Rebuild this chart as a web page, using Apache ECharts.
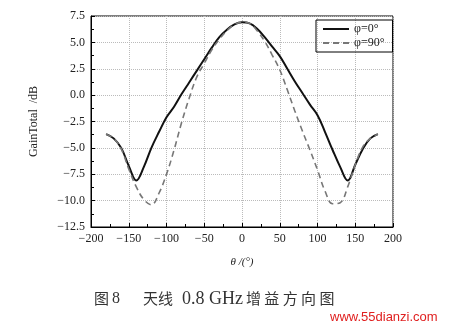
<!DOCTYPE html>
<html><head><meta charset="utf-8">
<script src="https://cdn.jsdelivr.net/npm/echarts@6/dist/echarts.min.js"></script>
<style>html,body{margin:0;padding:0;background:#fff}#c{width:464px;height:327px}</style>
</head><body><div id="c"></div>
<script>
const theta = [-180,-170,-160,-150,-140,-130,-120,-110,-100,-90,-80,-70,-60,-50,-40,-30,-20,-10,0,10,20,30,40,50,60,70,80,90,100,110,120,130,140,150,160,170,180];
const gainPhi0 = [-3.7,-4.1,-5.0,-6.7,-8.1,-6.8,-5.0,-3.5,-2.1,-1.1,0.1,1.2,2.3,3.4,4.5,5.5,6.2,6.7,6.9,6.8,6.3,5.5,4.6,3.7,2.5,1.3,0.2,-0.9,-1.9,-3.5,-5.2,-6.8,-8.1,-6.6,-5.1,-4.1,-3.7];
const gainPhi90 = [-3.7,-4.1,-5.1,-7.0,-8.7,-9.9,-10.4,-9.3,-7.5,-5.2,-2.6,-0.3,1.7,3.0,4.3,5.3,6.1,6.7,6.9,6.8,6.1,5.1,3.8,2.4,0.5,-1.5,-3.4,-5.2,-7.1,-9.1,-10.3,-10.2,-8.7,-6.6,-4.9,-4.1,-3.7];
const seriesNames = ['φ=0°','φ=90°'];
const captionParts = ['图', '8', '天线', '0.8 GHz', '增益方向图'];

const serif = '"Liberation Serif","DejaVu Serif",serif';
const cjk = '"Noto Sans CJK SC",sans-serif';
const chart = echarts.init(document.getElementById('c'));
const minus = v => String(v).replace('-', '−');
chart.setOption({
  animation:false,
  backgroundColor:'#fff',
  grid:{left:91,right:71,top:16,bottom:100,show:true,borderColor:'#000',borderWidth:1,backgroundColor:'transparent'},
  legend:{
    orient:'vertical',left:316,top:20,itemWidth:26,itemHeight:10,itemGap:2,
    padding:[3,8,3,6],borderColor:'#000',borderWidth:1,
    itemStyle:{opacity:0},
    textStyle:{fontFamily:serif,fontSize:12,color:'#222'},
    data:seriesNames
  },
  xAxis:{
    type:'value',min:-200,max:200,interval:50,
    name:'θ /(°)',nameLocation:'middle',nameGap:30,
    nameTextStyle:{fontFamily:serif,fontSize:11,fontStyle:'italic',color:'#222'},
    axisLine:{onZero:false,lineStyle:{color:'#000',width:1}},
    axisTick:{inside:true,length:4,lineStyle:{color:'#000'}},
    minorTick:{show:true,splitNumber:2,length:3,lineStyle:{color:'#000'}},
    axisLabel:{fontFamily:serif,fontSize:12,color:'#222',margin:6,formatter:v=>minus(v)},
    splitLine:{show:true,lineStyle:{color:'#bbb',type:[1,1],width:1}}
  },
  yAxis:{
    type:'value',min:-12.5,max:7.5,interval:2.5,
    name:'GainTotal  /dB',nameLocation:'middle',nameGap:51,nameRotate:90,
    nameTextStyle:{fontFamily:serif,fontSize:12,color:'#222'},
    axisLine:{show:true,onZero:false,lineStyle:{color:'#000',width:1}},
    axisTick:{show:true,inside:true,length:4,lineStyle:{color:'#000'}},
    minorTick:{show:true,splitNumber:2,length:3,lineStyle:{color:'#000'}},
    axisLabel:{fontFamily:serif,fontSize:12,color:'#222',margin:6,formatter:v=>minus(v.toFixed(1))},
    splitLine:{show:true,lineStyle:{color:'#bbb',type:[1,1],width:1}}
  },
  series:[
    {name:seriesNames[0],type:'line',smooth:0.4,symbol:'none',
     data:theta.map((t,i)=>[t,gainPhi0[i]]),
     lineStyle:{color:'#111',width:2},itemStyle:{color:'#111'}},
    {name:seriesNames[1],type:'line',smooth:0.4,symbol:'none',
     data:theta.map((t,i)=>[t,gainPhi90[i]]),
     lineStyle:{color:'#777',width:1.6,type:[6,4]},itemStyle:{color:'#777'}}
  ],
  graphic:[
    {type:'text',left:94,top:291,style:{text:captionParts[0],font:'15px '+cjk,fill:'#333'}},
    {type:'text',left:112,top:291,style:{text:captionParts[1],font:'16px '+serif,fill:'#333'}},
    {type:'text',left:143,top:291,style:{text:captionParts[2],font:'15px '+cjk,fill:'#333'}},
    {type:'text',left:182,top:290,style:{text:captionParts[3],font:'18px '+serif,fill:'#333'}},
    {type:'text',left:246,top:291,style:{text:captionParts[4].split('').join(' '),font:'15px '+cjk,fill:'#333'}},
    {type:'text',left:330,top:311,style:{text:'www.55dianzi.com',font:'13px "Liberation Sans",sans-serif',fill:'#e02020'}}
  ]
});
</script></body></html>
